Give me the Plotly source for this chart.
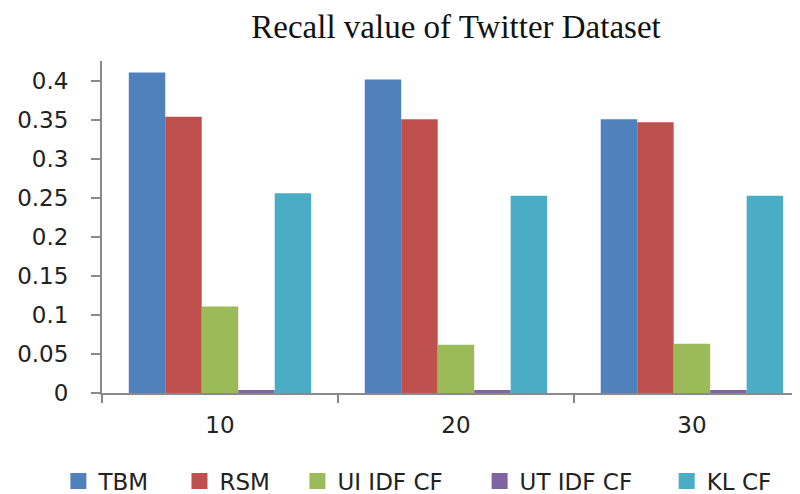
import plotly.graph_objects as go

categories = ["10", "20", "30"]
series_names = ["TBM", "RSM", "UI IDF CF", "UT IDF CF", "KL CF"]
tbm = [0.411, 0.402, 0.351]
rsm = [0.354, 0.351, 0.347]
ui_idf_cf = [0.111, 0.062, 0.063]
ut_idf_cf = [0.004, 0.004, 0.004]
kl_cf = [0.256, 0.253, 0.253]
y_tick_values = [0, 0.05, 0.1, 0.15, 0.2, 0.25, 0.3, 0.35, 0.4]
y_tick_labels = ["0", "0.05", "0.1", "0.15", "0.2", "0.25", "0.3", "0.35", "0.4"]

colors = ["#4F81BD", "#C0504D", "#9BBB59", "#8064A2", "#4BACC6"]
values = [tbm, rsm, ui_idf_cf, ut_idf_cf, kl_cf]
legend_ids = ["legend", "legend2", "legend3", "legend4", "legend5"]
legend_x = [-0.0625, 0.111, 0.280, 0.541, 0.809]

fig = go.Figure()
for name, vals, col in zip(series_names, values, colors):
    fig.add_trace(go.Bar(x=categories, y=vals, name=name, marker_color=col,
                         marker_line_width=0, showlegend=False))
for name, col, lid in zip(series_names, colors, legend_ids):
    fig.add_trace(go.Scatter(x=[None], y=[None], mode="markers", name=name,
                             marker=dict(symbol="square", size=17, color=col),
                             showlegend=True, legend=lid))

tick_font = dict(family="DejaVu Sans", size=23, color="#222222")
legend_font = dict(family="DejaVu Sans", size=23, color="#222222")
layout_legends = {}
for lid, lx in zip(legend_ids, legend_x):
    layout_legends[lid] = dict(orientation="h", x=lx, xanchor="left", y=-0.265,
                               yanchor="middle", font=legend_font, itemwidth=30,
                               bgcolor="rgba(0,0,0,0)")

fig.update_layout(
    width=792, height=486,
    margin=dict(l=94, r=0, t=53, b=101, autoexpand=False),
    paper_bgcolor="white", plot_bgcolor="white",
    barmode="group", bargap=0.227, bargroupgap=0,
    title=dict(text="Recall value of Twitter Dataset", x=0.5657, xanchor="center",
               y=0.962, yanchor="middle", yref="container",
               font=dict(family="Liberation Serif", size=33, color="#111111")),
    xaxis=dict(type="category", range=[-0.5, 2.458], showline=True, linecolor="#8a8a8a",
               linewidth=2, ticks="outside", tickson="boundaries", ticklen=8,
               tickcolor="#8a8a8a", tickwidth=2, tickfont=tick_font, showgrid=False,
               ticklabelstandoff=10, automargin=False),
    yaxis=dict(range=[0, 0.4256], tickvals=y_tick_values, ticktext=y_tick_labels,
               showline=True, linecolor="#8a8a8a", linewidth=2, ticks="outside",
               ticklen=9, tickcolor="#8a8a8a", tickwidth=2, tickfont=tick_font,
               showgrid=False, zeroline=False, ticklabelstandoff=18, automargin=False),
    **layout_legends,
)

fig.write_html("out.html")
